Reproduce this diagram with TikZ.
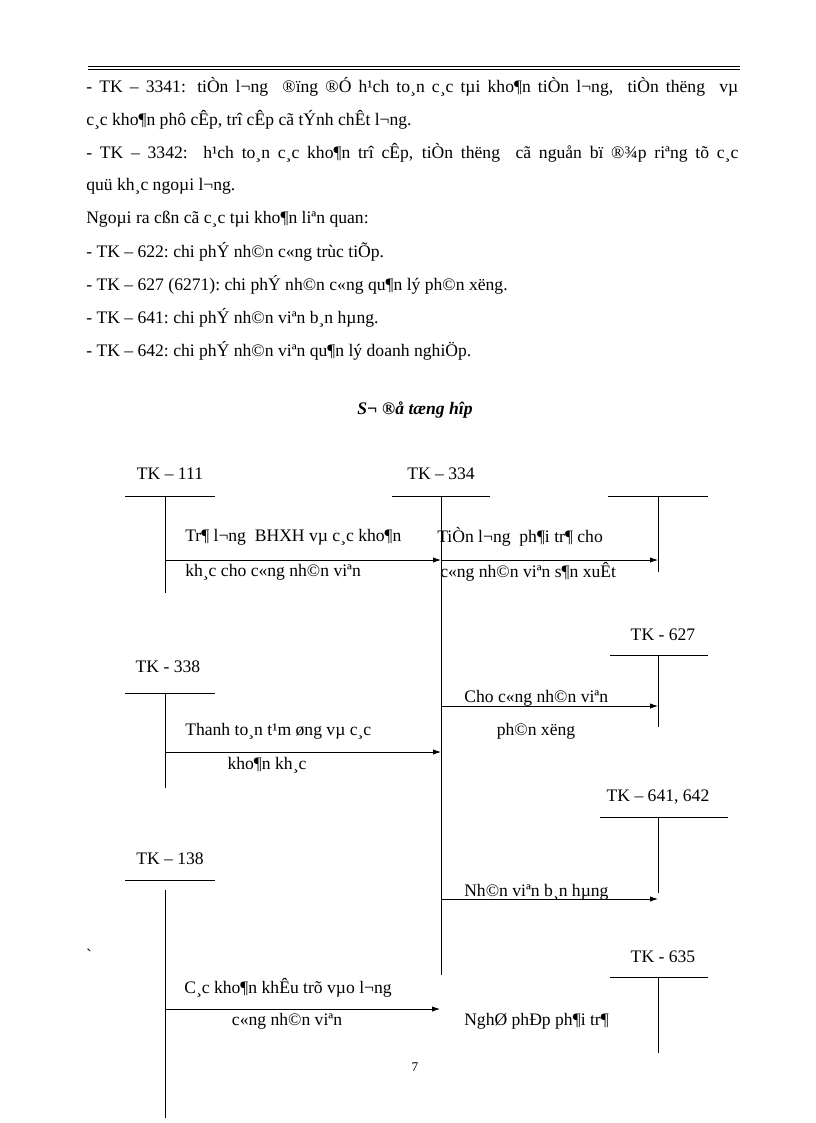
\documentclass[tikz,border=0pt]{standalone}
\usepackage{fontspec}
\setmainfont{Liberation Serif}
\usetikzlibrary{arrows.meta}
\begin{document}
\begin{tikzpicture}[x=0.75pt,y=-0.75pt,
  txt/.style={inner sep=0pt,font=\fontsize{13.2}{15}\selectfont},
  lt/.style={txt,anchor=west},
  acc/.style={line width=0.7pt},
  arr/.style={line width=0.6pt,-{Latex[length=6pt,width=4pt]}}]
\useasboundingbox (0,0) rectangle (816,1123);
\draw[line width=1.2pt] (88,66.5) -- (740,66.5);
\draw[line width=1.2pt] (88,69.5) -- (740,69.5);
\node[lt] (p1) at (86,87) {\makebox[489pt][s]{- TK -- 3341: tiÒn l¬ng\ \ ®ïng ®Ó h¹ch to¸n c¸c tµi kho¶n tiÒn l¬ng,\ \ tiÒn th­ëng\ \ vµ}};
\node[lt] (p2) at (86,120) {c¸c kho¶n phô cÊp, trî cÊp cã tÝnh chÊt l¬ng.};
\node[lt] (p3) at (86,153) {\makebox[489pt][s]{- TK -- 3342:\ \ h¹ch to¸n c¸c kho¶n trî cÊp, tiÒn th­ëng\ \ cã nguån bï ®¾p riªng tõ c¸c}};
\node[lt] (p4) at (86,186) {quü kh¸c ngoµi l¬ng.};
\node[lt] (p5) at (86,219) {Ngoµi ra cßn cã c¸c tµi kho¶n liªn\ quan:};
\node[lt] (p6) at (86,252) {- TK -- 622:\ chi phÝ nh©n c«ng trùc tiÕp.};
\node[lt] (p7) at (86,285) {- TK -- 627 (6271):\ chi phÝ nh©n\ c«ng qu¶n lý ph©n x­ëng.};
\node[lt] (p8) at (86,318) {- TK -- 641:\ chi phÝ nh©n viªn\ b¸n hµng.};
\node[lt] (p9) at (86,351) {- TK -- 642:\ chi phÝ nh©n viªn\ qu¶n lý\ doanh nghiÖp.};
\node[txt,font=\fontsize{13.2}{15}\selectfont\bfseries\itshape] (title) at (415,410) {S¬ ®å tæng hîp};
% T accounts
\node[txt] (t111) at (170,474) {TK -- 111};
\node[txt] (t334) at (441,474) {TK -- 334};
\node[txt] (t627) at (663,635) {TK - 627};
\node[txt] (t338) at (168,667) {TK - 338};
\node[txt] (t641) at (658,797) {TK -- 641, 642};
\node[txt] (t138) at (170,859) {TK -- 138};
\node[txt] (t635) at (663,957) {TK - 635};
\draw[acc] (125,496) -- (215,496); \coordinate (a1) at (165,496); \coordinate (a1e) at (165,593); \draw[acc] (a1) -- (a1e);
\draw[acc] (392,496) -- (490,496); \coordinate (b1) at (441,496); \coordinate (b1e) at (441,975); \draw[acc] (b1) -- (b1e);
\draw[acc] (608,496) -- (708,496); \coordinate (c1) at (658,496); \coordinate (c1e) at (658,572); \draw[acc] (c1) -- (c1e);
\draw[acc] (610,655) -- (708,655); \draw[acc] (658,655) -- (658,727);
\draw[acc] (125,693) -- (215,693); \draw[acc] (165,693) -- (165,788);
\draw[acc] (600,817) -- (728,817); \draw[acc] (658,817) -- (658,893);
\draw[acc] (125,880) -- (215,880); \draw[acc] (165,890) -- (165,1118);
\draw[acc] (610,977) -- (708,977); \draw[acc] (658,977) -- (658,1053);
% arrows
\draw[arr] (165,560) -- (441,560);
\draw[arr] (441,560) -- (658,560);
\draw[arr] (165,752) -- (441,752);
\draw[arr] (441,706) -- (658,706);
\draw[arr] (441,899) -- (658,899);
\draw[arr] (165,1009) -- (440,1009);
% labels
\node[lt] (l1) at (185,537) {Tr¶ l¬ng\ \ BHXH\ vµ c¸c kho¶n};
\node[lt] (l2) at (185,572) {kh¸c\ cho\ c«ng nh©n viªn};
\node[lt] (l3) at (437,537) {TiÒn l¬ng\ \ ph¶i tr¶\ cho};
\node[lt] (l4) at (440,572) {c«ng nh©n viªn\ s¶n xuÊt};
\node[lt] (l5) at (185,731) {Thanh to¸n t¹m øng vµ c¸c};
\node[txt] (l6) at (267,765) {kho¶n kh¸c};
\node[lt] (l7) at (464,698) {Cho c«ng nh©n viªn};
\node[txt] (l8) at (536,731) {ph©n x­ëng};
\node[lt] (l9) at (464,892) {Nh©n viªn b¸n hµng};
\node[lt] (l10) at (184,988) {C¸c kho¶n khÊu trõ vµo l¬ng};
\node[txt] (l11) at (287,1021) {c«ng nh©n viªn};
\node[lt] (l12) at (464,1021) {NghØ phÐp ph¶i tr¶};
\node[txt] (bt) at (89,955) {\textasciigrave};
\node[txt,font=\fontsize{10}{12}\selectfont] (pg) at (415,1067) {7};
\end{tikzpicture}
\end{document}
